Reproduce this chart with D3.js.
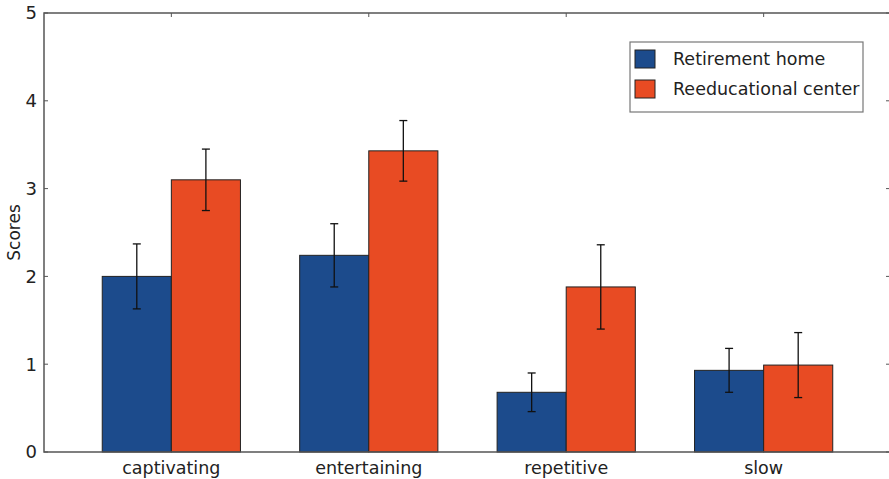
<!DOCTYPE html>
<html>
<head>
<meta charset="utf-8">
<script src="https://cdn.jsdelivr.net/npm/d3@7"></script>
<style>
  html, body { margin: 0; padding: 0; background: #fff; }
  svg { display: block; font-family: "DejaVu Sans", sans-serif; }
</style>
</head>
<body>
<svg id="chart" width="889" height="479"></svg>
<script>
// Mean scores per descriptor for the two groups, with error bar half-widths
const categories = ["captivating", "entertaining", "repetitive", "slow"];
const seriesNames = ["Retirement home", "Reeducational center"];
const retirementHome = [2.00, 2.24, 0.68, 0.93];
const reeducationalCenter = [3.10, 3.43, 1.88, 0.99];
const retirementErr = [0.37, 0.36, 0.22, 0.25];
const reeducationalErr = [0.35, 0.345, 0.48, 0.37];
const yTicks = [0, 1, 2, 3, 4, 5];
const colors = ["#1c4b8c", "#e84b23"];

const series = [
  { name: seriesNames[0], values: retirementHome, err: retirementErr, color: colors[0] },
  { name: seriesNames[1], values: reeducationalCenter, err: reeducationalErr, color: colors[1] }
];

const svg = d3.select("#chart");
const plotLeft = 44, plotRight = 890, plotTop = 13, plotBottom = 452;
const barWidth = 0.35;

// Category i occupies [i, i + 2*barWidth]; the x range runs a little past both ends
const x = d3.scaleLinear().domain([-0.295, 3.99]).range([plotLeft, plotRight]);
const y = d3.scaleLinear().domain([0, 5]).range([plotBottom, plotTop]);

// Bars
series.forEach((s, si) => {
  svg.append("g").selectAll("rect")
    .data(s.values)
    .join("rect")
    .attr("x", (d, i) => x(i + si * barWidth))
    .attr("width", x(barWidth) - x(0))
    .attr("y", d => y(d))
    .attr("height", d => y(0) - y(d))
    .attr("fill", s.color)
    .attr("stroke", "#222")
    .attr("stroke-width", 1);
});

// Error bars
series.forEach((s, si) => {
  const g = svg.append("g").attr("stroke", "#111").attr("stroke-width", 1.3);
  s.values.forEach((v, i) => {
    const cx = x(i + si * barWidth + barWidth / 2);
    const y1 = y(v + s.err[i]), y2 = y(v - s.err[i]);
    g.append("line").attr("x1", cx).attr("x2", cx).attr("y1", y1).attr("y2", y2);
    g.append("line").attr("x1", cx - 4).attr("x2", cx + 4).attr("y1", y1).attr("y2", y1);
    g.append("line").attr("x1", cx - 4).attr("x2", cx + 4).attr("y1", y2).attr("y2", y2);
  });
});

// Frame
svg.append("rect")
  .attr("x", plotLeft).attr("y", plotTop)
  .attr("width", plotRight - plotLeft).attr("height", plotBottom - plotTop)
  .attr("fill", "none").attr("stroke", "#555").attr("stroke-width", 1.5);

// Y axis (inward ticks on both sides)
const yAxis = svg.append("g");
yTicks.forEach(t => {
  const ty = y(t);
  yAxis.append("line").attr("x1", plotLeft).attr("x2", plotLeft + 4).attr("y1", ty).attr("y2", ty)
    .attr("stroke", "#555").attr("stroke-width", 1);
  yAxis.append("line").attr("x1", plotRight - 4).attr("x2", plotRight).attr("y1", ty).attr("y2", ty)
    .attr("stroke", "#555").attr("stroke-width", 1);
  yAxis.append("text")
    .attr("x", plotLeft - 7).attr("y", ty)
    .attr("dy", "0.36em")
    .attr("text-anchor", "end")
    .attr("font-size", 18)
    .attr("fill", "#222")
    .text(t);
});

// X axis labels at group centres, with inward ticks on top
const xAxis = svg.append("g");
categories.forEach((c, i) => {
  const cx = x(i + barWidth);
  xAxis.append("line").attr("x1", cx).attr("x2", cx).attr("y1", plotTop).attr("y2", plotTop + 4)
    .attr("stroke", "#555").attr("stroke-width", 1);
  xAxis.append("text")
    .attr("x", cx).attr("y", 474)
    .attr("text-anchor", "middle")
    .attr("font-size", 17.5)
    .attr("fill", "#222")
    .text(c);
});

// Y axis title
svg.append("text")
  .attr("transform", `translate(20, ${(plotTop + plotBottom) / 2}) rotate(-90)`)
  .attr("text-anchor", "middle")
  .attr("font-size", 17)
  .attr("fill", "#222")
  .text("Scores");

// Legend
const legend = svg.append("g");
legend.append("rect")
  .attr("x", 630).attr("y", 42).attr("width", 233).attr("height", 70)
  .attr("fill", "#fff").attr("stroke", "#777").attr("stroke-width", 1.2);
series.forEach((s, si) => {
  const ly = 50 + si * 30;
  legend.append("rect")
    .attr("x", 635).attr("y", ly).attr("width", 20).attr("height", 18)
    .attr("fill", s.color).attr("stroke", "#222").attr("stroke-width", 1);
  legend.append("text")
    .attr("x", 673).attr("y", ly + 9).attr("dy", "0.36em")
    .attr("font-size", 17.5)
    .attr("fill", "#222")
    .text(s.name);
});
</script>
</body>
</html>
